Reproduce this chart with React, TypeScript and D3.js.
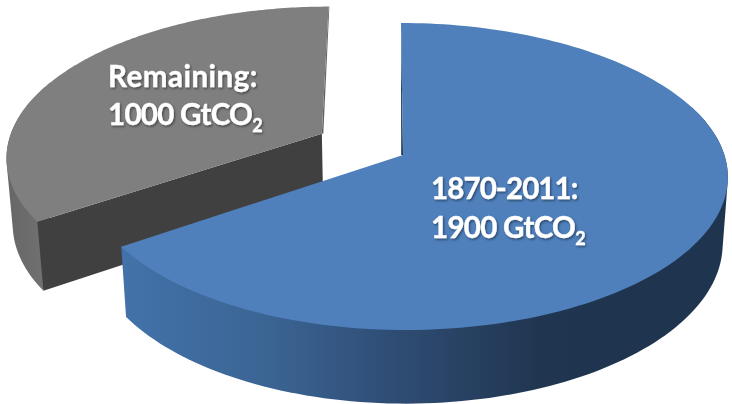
import React from "react";
import * as d3 from "d3";

const categories = ["1870-2011:", "Remaining:"];
const values = [1900, 1000];
const amounts = ["1900 GtCO", "1000 GtCO"];
const topColors = ["#4f80bc", "#7f7f7f"];
const cutColors = ["#1c3552", "#404040"];

const W = 732, H = 404;
const cx = 403, cy = 155;
const B = 316, A = 150.5, S = 2.3, K = 0.14, M = 0.016, D = 67.3;
// world-space position of each slice's circle centre and of its apex
const centres: [number, number][] = [[0, 0], [-0.265, -0.144]];
const apexes: [number, number][] = [[0, 0], [-0.261, -0.144]];
// sideways stretch of each slice's rim, on its right and on its left half
const bulgeRight = [0.017, 0];
const bulgeLeft = [0.003, 0];
// which part of each slice's rim forms the visible outer wall
const wallFrom = [0.3, 0];
const wallTo = [1, 0.45];

type P = [number, number];
const top = (X: number, Y: number): P => {
  const w = 1 - K * Y;
  return [cx + (B * X + S * Y) / w, cy + (A * Y) / w];
};
const base = (X: number, Y: number): P => {
  const w = 1 - K * Y + M;
  return [cx + (B * X + S * Y) / w, cy + (A * Y + D) / w];
};

const pie = d3.pie<number>().sort(null).startAngle(0).endAngle(2 * Math.PI);
const arcs = pie(values);
const line = d3.line<P>().curve(d3.curveLinear);

const rim = (i: number, proj: (X: number, Y: number) => P): P[] => {
  const a = d3.scaleLinear().domain([0, 160]).range([arcs[i].startAngle, arcs[i].endAngle]);
  return d3.range(161).map((t) => {
    const ang = a(t);
    const s = Math.sin(ang);
    const bulge = s > 0 ? bulgeRight[i] : bulgeLeft[i];
    return proj(centres[i][0] + bulge * s * s + s, centres[i][1] - Math.cos(ang));
  });
};

const wedge = (i: number): string => {
  const r = rim(i, top);
  return line([top(apexes[i][0], apexes[i][1]), ...r])! + "Z";
};
const side = (i: number): string => {
  const lo = Math.round(wallFrom[i] * 160), hi = Math.round(wallTo[i] * 160) + 1;
  const hull = d3.polygonHull([...rim(i, top).slice(lo, hi), ...rim(i, base).slice(lo, hi)]) as P[];
  return line(hull)! + "Z";
};
const cutEnd = (i: number): string => {
  const t = rim(i, top), b = rim(i, base);
  const ap = apexes[i];
  return line([top(ap[0], ap[1]), t[0], b[0], base(ap[0], ap[1])])! + "Z";
};

const apexB = top(apexes[0][0], apexes[0][1]);
const startB = rim(0, top)[0];
const endG = rim(1, top)[160];
const apexG = top(apexes[1][0], apexes[1][1]);

const fontStyle: React.CSSProperties = {
  fontFamily: "Lato, sans-serif",
  fontWeight: 700,
  fontSize: 29.5,
  fill: "#ffffff",
  stroke: "#ffffff",
  strokeWidth: 0.35,
  filter: "url(#txtShadow)",
};

function Label({ x, y1, y2, a, b, ls1, ls2 }: { x: number; y1: number; y2: number; a: string; b: string; ls1: number; ls2: number }) {
  return (
    <g style={fontStyle}>
      <text x={x} y={y1} letterSpacing={ls1}>{a}</text>
      <text x={x} y={y2} letterSpacing={ls2}>
        {b}
        <tspan fontSize={18} dy={7}>2</tspan>
      </text>
    </g>
  );
}

export default function App() {
  return (
    <svg
      width={W}
      height={H}
      viewBox={`0 0 ${W} ${H}`}
      style={{ position: "absolute", left: 0, top: 0, display: "block" }}
    >
      <defs>
        <linearGradient id="blueSide" gradientUnits="userSpaceOnUse" x1={125} x2={600} y1={0} y2={0}>
          <stop offset="0" stopColor="#4272a9" />
          <stop offset="0.3" stopColor="#3b6494" />
          <stop offset="0.6" stopColor="#2d4a70" />
          <stop offset="0.88" stopColor="#20354f" />
          <stop offset="1" stopColor="#1f344e" />
        </linearGradient>
        <linearGradient id="graySide" gradientUnits="userSpaceOnUse" x1={5} x2={50} y1={0} y2={0}>
          <stop offset="0" stopColor="#666666" />
          <stop offset="1" stopColor="#727272" />
        </linearGradient>
        <filter id="txtShadow" x="-10%" y="-20%" width="120%" height="150%">
          <feDropShadow dx={1.2} dy={1.5} stdDeviation={1} floodColor="#000" floodOpacity={0.45} />
        </filter>
      </defs>

      {/* Remaining slice */}
      <path d={side(1)} fill="url(#graySide)" />
      <path d={line([endG, apexG, [apexG[0] + 1.5, apexG[1]], [endG[0] + 0.8, endG[1]]])! + "Z"} fill="#636363" />
      <path d={cutEnd(1)} fill={cutColors[1]} />
      <path d={wedge(1)} fill={topColors[1]} />

      {/* 1870-2011 slice */}
      <path d={side(0)} fill="url(#blueSide)" />
      <path d={line([startB, apexB, [apexB[0] - 1.8, apexB[1]]])! + "Z"} fill={cutColors[0]} />
      <path d={wedge(0)} fill={topColors[0]} />

      <Label x={431} y1={199} y2={238} a={categories[0]} b={amounts[0]} ls1={-0.9} ls2={-0.7} />
      <Label x={108} y1={87} y2={125} a={categories[1]} b={amounts[1]} ls1={0.5} ls2={-0.7} />
    </svg>
  );
}
